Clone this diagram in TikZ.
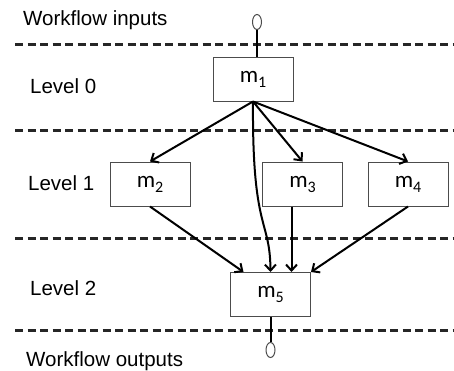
\documentclass[tikz,border=0pt]{standalone}
\usepackage{fontspec}
\setmainfont{Liberation Sans}
\newfontfamily\modfont{Carlito}
\usetikzlibrary{shapes.geometric,arrows.meta}
\tikzstyle{module}=[draw=black!70,fill=white,line width=1pt,minimum width=80pt,minimum height=44pt,inner sep=0pt,font=\modfont\fontsize{23}{24}\selectfont]
\tikzstyle{flow}=[-{Straight Barb[length=6pt,width=11pt,line width=2pt]},line width=2pt]
\tikzstyle{port}=[draw=black!70,ellipse,line width=1pt,minimum width=9pt,minimum height=15pt,inner sep=0pt]
\tikzstyle{levelline}=[line width=3pt,dash pattern=on 8pt off 4.5pt,black!85]
\newcommand{\module}[4]{\node[module] (#1) at (#2,#3) {m\raisebox{-5pt}{\fontsize{16}{16}\selectfont #4}};}
\newcommand{\levellabel}[4]{\node[anchor=base west,inner sep=0pt] (#1) at (#2,#3) {#4};}

\begin{document}
\begin{tikzpicture}[x=1pt,y=-1pt,font=\fontsize{20.5}{24}\selectfont]
    \useasboundingbox (0,0) rectangle (454,370);
    % level separators
    \foreach \y in {44,130,238,330}
        \draw[levelline] (15,\y) -- (454,\y);

    \levellabel{win}{23}{25}{Workflow inputs}
    \levellabel{l0}{30}{93}{Level 0}
    \levellabel{l1}{28}{190}{Level 1}
    \levellabel{l2}{30}{295}{Level 2}
    \levellabel{wout}{26}{366}{Workflow outputs}

    % modules
    \module{m1}{253}{79}{1}
    \module{m2}{150}{184}{2}
    \module{m3}{302.5}{184}{3}
    \module{m4}{408}{184}{4}
    \module{m5}{270.5}{294.5}{5}

    \node[port] (in) at (257,22) {};
    \node[port] (out) at (270.5,350) {};
    \draw[line width=2pt] (in.south) -- (in.south |- m1.north);
    \draw[line width=2pt] (m5.south) -- (out.north);

    %
    \draw[flow] (m1.south) -- (m2.north);
    \draw[flow] (m1.south) -- (m3.north);
    \draw[flow] (m1.south) -- (m4.north);
    \draw[flow] (m1.south) .. controls (252,232) and (270,218) .. (m5.north);

    \draw[flow] (m2.south) -- ([xshift=-27pt]m5.north);
    \draw[flow] ([xshift=-11pt]m3.south) -- ([xshift=-11pt]m3.south |- m5.north);
    \draw[flow] (m4.south) -- (m5.north east);
\end{tikzpicture}
\end{document}
